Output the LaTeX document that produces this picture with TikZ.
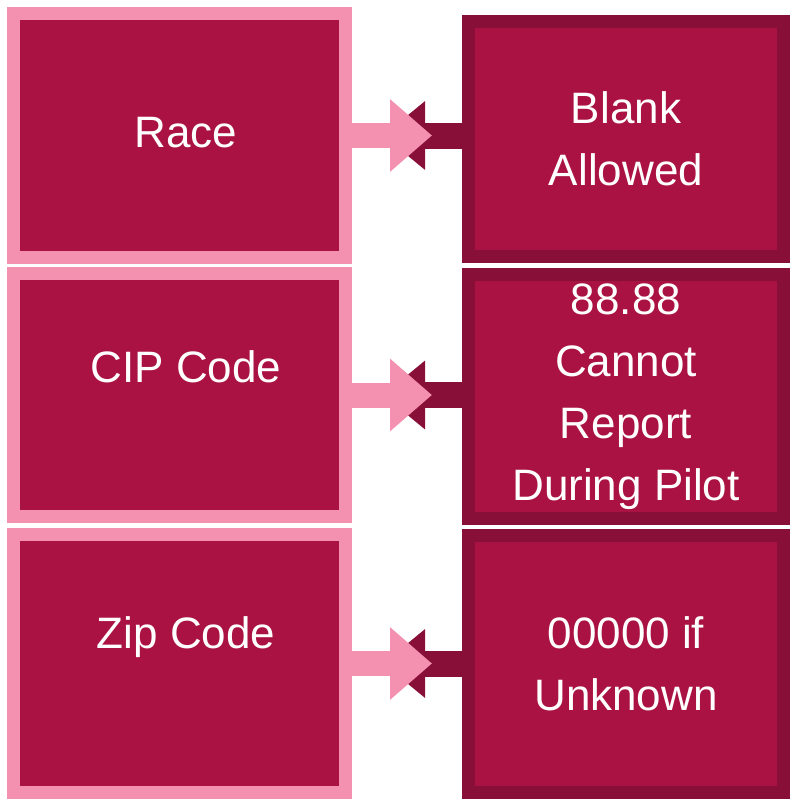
\documentclass[tikz,border=0pt]{standalone}
\usepackage{fontspec}
\setmainfont{Liberation Sans}
\usetikzlibrary{arrows.meta}
\definecolor{cremisi}{HTML}{AB1244}
\definecolor{rosa}{HTML}{F490B0}
\definecolor{scuro}{HTML}{870F38}
% testo spostato in alto senza cambiare il riquadro
\newcommand{\alzato}[2]{\hspace*{9.75pt}\raisebox{#1}[\height][\depth]{#2}}

\begin{document}
\begin{tikzpicture}[x=0.75pt, y=-0.75pt]
	% Stili per i riquadri e le frecce
	\tikzset{
		campo/.style={draw=rosa, fill=cremisi, line width=9.75pt, text=white, inner sep=0pt,
			font=\fontsize{33}{46.5}\selectfont, align=center, minimum width=249pt},
		regola/.style={campo, draw=scuro, minimum width=236.25pt},
		frecciarosa/.style={draw=rosa, line width=18.75pt, shorten >=22.5pt,
			-{Triangle[length=31.5pt, width=52.5pt]}},
		frecciascura/.style={draw=scuro, line width=19.5pt, shorten >=23.25pt,
			-{Triangle[length=31.5pt, width=49.5pt]}}
	}
	\useasboundingbox (0,0) rectangle (790,799);
	
	% Campi
	\node[campo, minimum height=183pt] (race) at (179.5,135.5) {\alzato{1.9pt}{Race}};
	\node[campo, minimum height=182.25pt] (cip) at (179.5,395) {\alzato{21pt}{CIP Code}};
	\node[campo, minimum height=193.5pt] (zip) at (179.5,663.5) {\alzato{20pt}{Zip Code}};
	
	% Regole
	\node[regola, minimum height=176.25pt] (blank) at (626,139) {Blank\\Allowed};
	\node[regola, minimum height=183pt] (pilot) at (626,396.5) {88.88\\Cannot\\Report\\During Pilot};
	\node[regola, minimum height=192.75pt] (unknown) at (626,664) {00000 if\\Unknown};
	
	% Frecce
	\draw[frecciascura] (blank.west |- race.east) -- (race.east);
	\draw[frecciarosa] (race.east) -- (race.east -| blank.west);
	\draw[frecciascura] (pilot.west |- cip.east) -- (cip.east);
	\draw[frecciarosa] (cip.east) -- (cip.east -| pilot.west);
	\draw[frecciascura] (unknown.west |- zip.east) -- (zip.east);
	\draw[frecciarosa] (zip.east) -- (zip.east -| unknown.west);
\end{tikzpicture}
\end{document}
